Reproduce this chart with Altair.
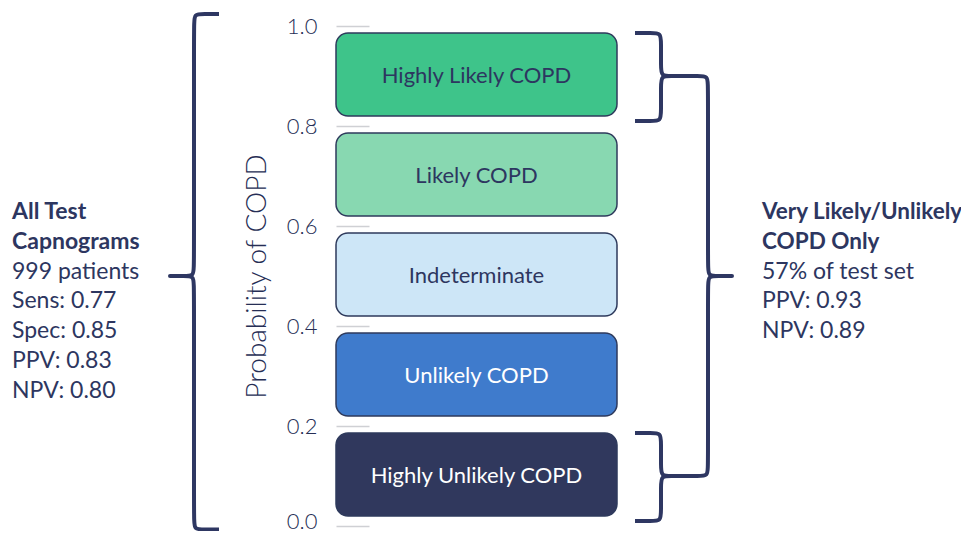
import altair as alt
import pandas as pd
import numpy as np

# ---------------- data ----------------
categories = ["Highly Unlikely COPD", "Unlikely COPD", "Indeterminate",
              "Likely COPD", "Highly Likely COPD"]
band_low = [0.0, 0.2, 0.4, 0.6, 0.8]
band_high = [0.2, 0.4, 0.6, 0.8, 1.0]
fill_colors = ["#30385d", "#3f7bcc", "#cde6f7", "#88d8b1", "#3ec48a"]
label_colors = ["#ffffff", "#ffffff", "#2d3660", "#2d3660", "#2d3660"]
y_ticks = [0.0, 0.2, 0.4, 0.6, 0.8, 1.0]

left_title = ["All Test", "Capnograms"]
left_lines = ["999 patients", "Sens: 0.77", "Spec: 0.85", "PPV: 0.83", "NPV: 0.80"]
right_title = ["Very Likely/Unlikely", "COPD Only"]
right_lines = ["57% of test set", "PPV: 0.93", "NPV: 0.89"]

# ---------------- layout / style ----------------
BOX_W, PLOT_H = 281, 500
DARK = "#2d3660"
FONT = "Lato"
INSET_LOW, INSET_HIGH = 0.02, 0.014

def to_data(px, py):
    return px / BOX_W, 1 - py / PLOT_H

def ypx(v):
    return (1 - v) * PLOT_H

bands = pd.DataFrame({
    "cat": categories,
    "x0": 0.0, "x1": 1.0, "xm": 0.5,
    "y0": [l + INSET_LOW for l in band_low],
    "y1": [h - INSET_HIGH for h in band_high],
    "ym": [(l + h) / 2 for l, h in zip(band_low, band_high)],
    "tc": label_colors,
})

# braces: polylines with rounded corners (basis curve)
def rounded(verts, r, sharp):
    out = [verts[0]]
    for i in range(1, len(verts) - 1):
        V = np.array(verts[i], float)
        if i in sharp:
            out += [V, V, V]
            continue
        P = np.array(verts[i - 1], float)
        N = np.array(verts[i + 1], float)
        din = (V - P) / np.linalg.norm(V - P)
        dout = (N - V) / np.linalg.norm(N - V)
        out += [V - r * din, V, V + r * dout]
    out.append(np.array(verts[-1], float))
    return out

def brace(line_x, hook_x, tip_x, top, bot, mid):
    t, b, m = ypx(top), ypx(bot), ypx(mid)
    return [(hook_x, t), (line_x, t), (line_x, m), (tip_x, m),
            (line_x, m), (line_x, b), (hook_x, b)]

rows = []
def add(name, verts, r=10):
    pts = rounded(verts, r, sharp={3})
    for i, (px, py) in enumerate(pts):
        x, y = to_data(px, py)
        rows.append({"brace": name, "i": i, "x": float(x), "y": float(y)})

add("left", brace(-142, -117, -166, band_high[-1] + 0.024, band_low[0] - 0.007,
                  (band_low[0] + band_high[-1]) / 2))
up_mid = (band_low[4] + band_high[4]) / 2
lo_mid = (band_low[0] + band_high[0]) / 2
add("up", brace(325, 299, 347, band_high[4] - 0.014, band_low[4] + 0.01, up_mid))
add("lo", brace(325, 299, 347, band_high[0] - 0.014, band_low[0] + 0.01, lo_mid))
add("big", brace(372, 347, 396, up_mid, lo_mid, (up_mid + lo_mid) / 2))
braces = pd.DataFrame(rows)

LINE = 0.0596
Y0 = 0.628
def text_rows(titles, lines, x, side_name):
    out = []
    for k, t in enumerate(titles + lines):
        out.append({"t": t, "x": x, "y": Y0 - k * LINE,
                    "bold": k < len(titles), "side": side_name})
    return out

side = pd.DataFrame(text_rows(left_title, left_lines, -324 / BOX_W, "L") +
                    text_rows(right_title, right_lines, 426 / BOX_W, "R"))
left_bold = side[side.bold & (side.side == "L")][["t", "x", "y"]]
right_bold = side[side.bold & (side.side == "R")][["t", "x", "y"]]
side_reg = side[~side.bold][["t", "x", "y"]]

xs = alt.Scale(domain=[0, 1], nice=False, zero=False)
ys = alt.Scale(domain=[0, 1], nice=False, zero=False)

axis = alt.Axis(values=y_ticks, format=".1f", offset=-33, tickSize=33,
                tickColor="#cfd0d4", tickWidth=1.5, domain=False, grid=False,
                labelPadding=19, labelFontSize=22, labelFont=FONT,
                labelFontWeight=300, labelColor="#262e55", labelFlush=False,
                labelOverlap=False,
                labelOffset=alt.condition("datum.value === 0", alt.value(-5), alt.value(0)),
                title="Probability of COPD",
                titleFontSize=28, titleFont=FONT, titleFontWeight=300,
                titleColor="#262e55", titlePadding=15)

def Y(field):
    return alt.Y(field, scale=ys, axis=axis)

rects = alt.Chart(bands).mark_rect(
    cornerRadius=12, stroke="#2e3a5c", strokeWidth=1.5
).encode(
    x=alt.X("x0:Q", scale=xs, axis=None),
    x2="x1:Q",
    y=Y("y0:Q"),
    y2="y1:Q",
    color=alt.Color("cat:N", scale=alt.Scale(domain=categories, range=fill_colors),
                    legend=None),
)

labels = alt.Chart(bands).mark_text(
    font=FONT, fontSize=22, baseline="middle", align="center"
).encode(
    x=alt.X("xm:Q", scale=xs, axis=None),
    y=Y("ym:Q"),
    text="cat:N",
    color=alt.Color("tc:N", scale=None),
)

lines = alt.Chart(braces).mark_line(
    interpolate="basis", strokeWidth=4, color="#2e3762", strokeJoin="round"
).encode(
    x=alt.X("x:Q", scale=xs, axis=None),
    y=Y("y:Q"),
    detail="brace:N",
    order="i:Q",
)

def side_text(df, size, weight):
    return alt.Chart(df).mark_text(
        font=FONT, fontSize=size, fontWeight=weight, align="left",
        baseline="middle", color=DARK
    ).encode(
        x=alt.X("x:Q", scale=xs, axis=None),
        y=Y("y:Q"),
        text="t:N",
    )

chart = alt.layer(
    rects, labels, lines,
    side_text(left_bold, 23, "bold"),
    side_text(right_bold, 22.5, "bold"),
    side_text(side_reg, 23, "normal"),
).properties(
    width=BOX_W, height=PLOT_H,
    autosize=alt.AutoSizeParams(type="none"),
    padding={"left": 328, "top": 18, "right": 344, "bottom": 5},
).configure_view(stroke=None)

chart.save("out.html", embed_options={"renderer": "svg", "actions": False})
